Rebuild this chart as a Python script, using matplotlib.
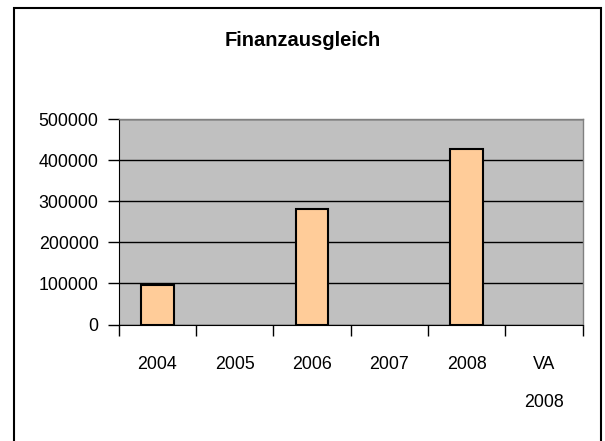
import numpy as np
import matplotlib.pyplot as plt
from matplotlib.patches import Rectangle

plt.rcParams['font.family'] = ['Liberation Sans', 'DejaVu Sans']

# Data
categories = ['2004', '2005', '2006', '2007', '2008', 'VA\n2008']
values = [95000, None, 280000, None, 427000, None]
y_ticks = [0, 100000, 200000, 300000, 400000, 500000]

vals = np.array([np.nan if v is None else v for v in values], dtype=float)
x = np.arange(len(categories))

fig = plt.figure(figsize=(6.05, 4.41), dpi=100)
ax = fig.add_axes([118.7 / 605, 1 - 324.5 / 441, 464 / 605, 205.5 / 441])

# outer chart border
fig.patches.append(Rectangle((14 / 605, -0.05), 587 / 605, 1 - 8 / 441 + 0.05,
                             transform=fig.transFigure, fill=False,
                             edgecolor='black', linewidth=1.5))

ax.set_facecolor('#C0C0C0')
ax.set_axisbelow(True)
ax.yaxis.grid(True, color='black', linewidth=1)
ax.bar(x, vals, width=0.42, color='#FFCC99', edgecolor='black', linewidth=1.5, zorder=3)

ax.set_xlim(-0.5, len(categories) - 0.5)
ax.set_ylim(0, 500000)
ax.set_yticks(y_ticks)
ax.set_yticklabels([str(t) for t in y_ticks], fontsize=12.8)
ax.tick_params(axis='y', direction='out', length=8, width=1, pad=6.5, colors='black')

# ticks between categories, labels at centres
ax.set_xticks(np.arange(-0.5, len(categories), 1.0))
ax.set_xticklabels([])
ax.set_xticks(x, minor=True)
ax.set_xticklabels(categories, minor=True, fontsize=12.8, linespacing=2.6)
ax.tick_params(axis='x', which='major', direction='out', length=8, width=1)
ax.tick_params(axis='x', which='minor', length=0, pad=22.5)

for side in ['top', 'right']:
    ax.spines[side].set_color('#808080')
    ax.spines[side].set_linewidth(1)
ax.spines['left'].set_color('black')
ax.spines['bottom'].set_color('black')

fig.text(303 / 605, 1 - 40 / 441, 'Finanzausgleich', ha='center', va='center',
         fontsize=14.5, fontweight='bold')

plt.savefig('out.png', dpi=100)
